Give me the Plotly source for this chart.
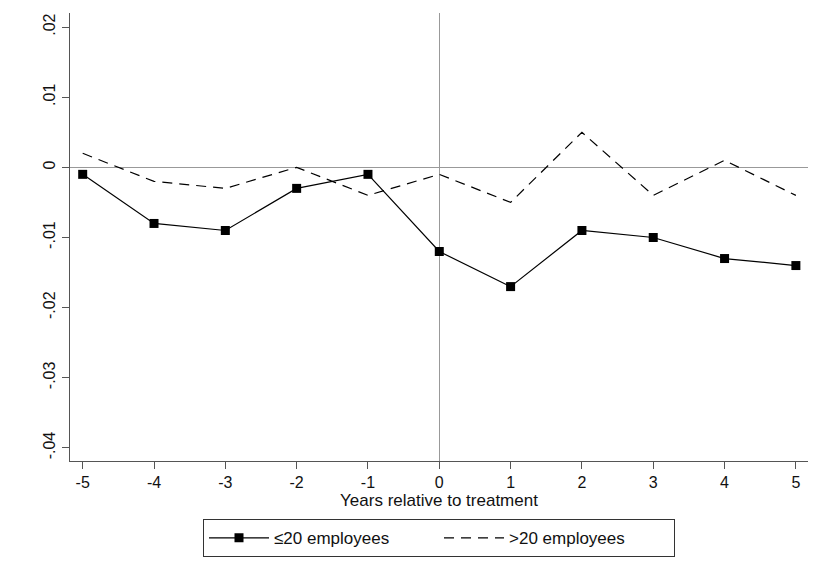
import plotly.graph_objects as go

years = [-5, -4, -3, -2, -1, 0, 1, 2, 3, 4, 5]
small_firms = [-0.001, -0.008, -0.009, -0.003, -0.001, -0.012, -0.017, -0.009, -0.010, -0.013, -0.014]
large_firms = [0.002, -0.002, -0.003, 0.000, -0.004, -0.001, -0.005, 0.005, -0.004, 0.001, -0.004]
y_tickvals = [0.02, 0.01, 0, -0.01, -0.02, -0.03, -0.04]
y_ticktext = [".02", ".01", "0", "-.01", "-.02", "-.03", "-.04"]
x_tickvals = years
x_ticktext = [str(v) for v in years]

FONT = "Liberation Sans, Arial, Helvetica, sans-serif"

fig = go.Figure()
fig.add_trace(go.Scatter(
    x=years, y=small_firms, mode="lines+markers", name="≤20 employees",
    line=dict(color="black", width=1.2),
    marker=dict(symbol="square", size=9, color="black"),
))
fig.add_trace(go.Scatter(
    x=years, y=large_firms, mode="lines", name=">20 employees",
    line=dict(color="black", width=1.2, dash="10px,7px"),
))

fig.update_layout(
    width=809, height=572,
    margin=dict(l=62, r=9, t=5, b=119, autoexpand=False),
    paper_bgcolor="white", plot_bgcolor="white",
    font=dict(family=FONT, size=16, color="#111"),
    showlegend=True,
    legend=dict(
        orientation="h", x=0.5, xanchor="center", y=-0.13, yanchor="top",
        bordercolor="#333", borderwidth=1, bgcolor="white",
        font=dict(family=FONT, size=17, color="#111"),
        entrywidth=160, itemwidth=60,
    ),
)
fig.update_xaxes(
    range=[-5.178, 5.17], tickvals=x_tickvals, ticktext=x_ticktext,
    automargin=False,
    showgrid=False, zeroline=True, zerolinecolor="#999", zerolinewidth=1,
    showline=True, linecolor="#555", linewidth=1.3,
    ticks="outside", ticklen=7, tickcolor="#555", tickwidth=1.3,
    tickfont=dict(family=FONT, size=16, color="#111"),
    title=dict(text="Years relative to treatment", standoff=2,
               font=dict(family=FONT, size=17, color="#111")),
)
fig.update_yaxes(
    range=[-0.04186, 0.022], tickvals=y_tickvals, ticktext=y_ticktext,
    tickangle=-90, automargin=False,
    showgrid=False, zeroline=True, zerolinecolor="#999", zerolinewidth=1,
    showline=True, linecolor="#555", linewidth=1.3,
    ticks="outside", ticklen=7, tickcolor="#555", tickwidth=1.3,
    tickfont=dict(family=FONT, size=16, color="#111"),
)

fig.write_html("out.html")
